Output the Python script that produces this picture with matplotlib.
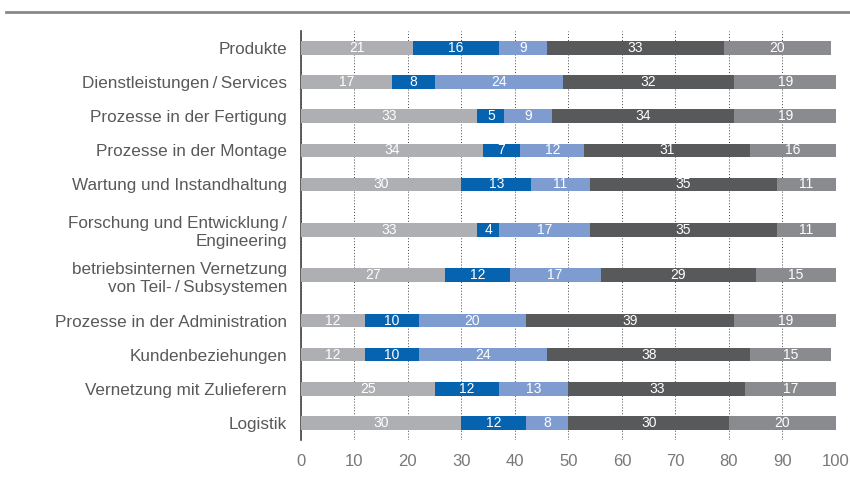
import numpy as np
import matplotlib
matplotlib.use('Agg')
import matplotlib.pyplot as plt

categories = ['Produkte', 'Dienstleistungen\u2009/\u2009Services', 'Prozesse in der Fertigung',
              'Prozesse in der Montage', 'Wartung und Instandhaltung',
              'Forschung und Entwicklung\u2009/\nEngineering',
              'betriebsinternen Vernetzung\nvon Teil-\u2009/\u2009Subsystemen',
              'Prozesse in der Administration', 'Kundenbeziehungen',
              'Vernetzung mit Zulieferern', 'Logistik']

s1 = [21, 17, 33, 34, 30, 33, 27, 12, 12, 25, 30]
s2 = [16, 8, 5, 7, 13, 4, 12, 10, 10, 12, 12]
s3 = [9, 24, 9, 12, 11, 17, 17, 20, 24, 13, 8]
s4 = [33, 32, 34, 31, 35, 35, 29, 39, 38, 33, 30]
s5 = [20, 19, 19, 16, 11, 11, 15, 19, 15, 17, 20]

series = [s1, s2, s3, s4, s5]
colors = ['#aeafb2', '#0563af', '#7f9cd1', '#58595b', '#8a8b8e']

# row positions: extra space around two-line labels
nlines = [c.count('\n') + 1 for c in categories]
ypos = [0.0]
for i in range(1, len(categories)):
    step = 1.0
    if nlines[i] > 1 or nlines[i - 1] > 1:
        step = 1.33
    ypos.append(ypos[-1] + step)
ypos = np.array(ypos)

fig = plt.figure(figsize=(8.5, 4.91), dpi=100)
ax = fig.add_axes([0.354, 0.104, 0.6295, 0.833])

left = np.zeros(len(categories))
for vals, col in zip(series, colors):
    vals = np.array(vals)
    ax.barh(ypos, vals, left=left, height=0.4, color=col, zorder=3)
    for y, l, v in zip(ypos, left, vals):
        ax.text(l + v / 2, y, str(v), ha='center', va='center', color='white',
                fontsize=10, family=['Liberation Sans Narrow', 'Liberation Sans'],
                zorder=4)
    left += vals

ax.set_xlim(0, 100)
ax.set_ylim(ypos[-1] + 0.5, -0.5)
ax.set_xticks(np.arange(0, 101, 10))
ax.set_yticks(ypos)
ax.set_yticklabels(categories, fontsize=12.3, color='#58595b',
                   family='Liberation Sans', ha='right', linespacing=1.25)
for lab in ax.get_xticklabels():
    lab.set_family('Liberation Sans')
ax.tick_params(axis='x', length=0, labelsize=12, labelcolor='#77787b', pad=10)
ax.tick_params(axis='y', length=0, pad=10)
ax.xaxis.grid(True, linestyle=(0, (1, 2)), color='#444444', linewidth=0.7, zorder=0)
for s in ['top', 'right', 'bottom']:
    ax.spines[s].set_visible(False)
ax.spines['left'].set_color('#444444')
ax.spines['left'].set_linewidth(1.2)
ax.set_axisbelow(True)

fig.add_artist(plt.Line2D([0.007, 1.0], [0.975, 0.975], color='#888888', linewidth=2,
                          transform=fig.transFigure))

plt.savefig('out.png', dpi=100)
